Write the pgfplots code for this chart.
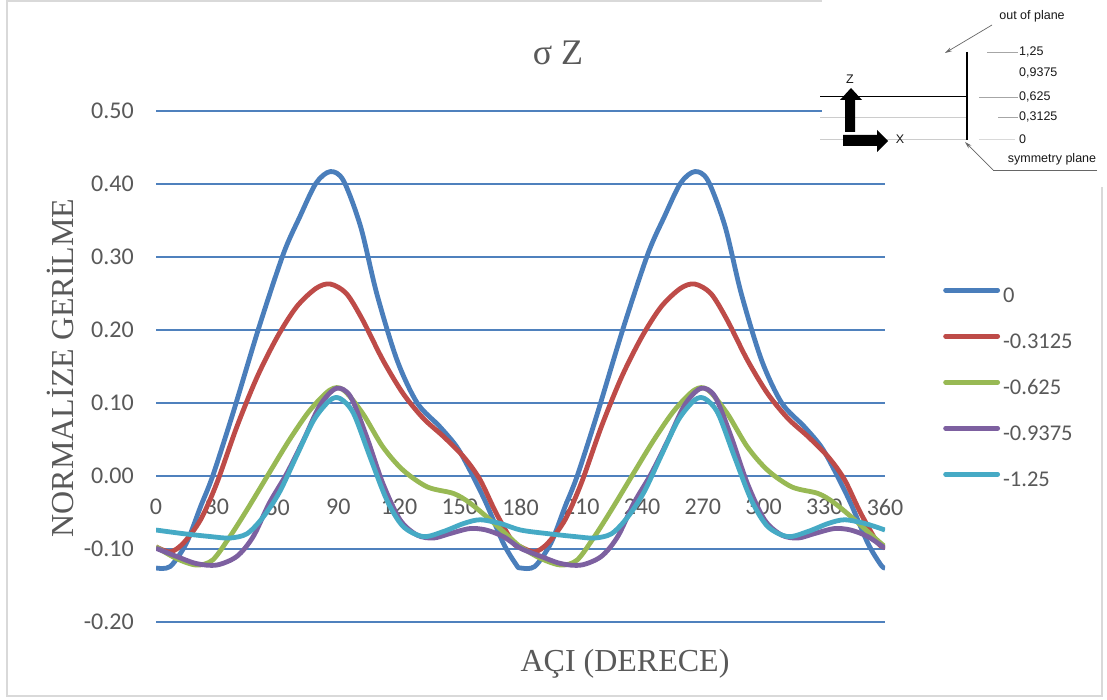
\documentclass[border=0pt]{standalone}
\usepackage{pgfplots}
\pgfplotsset{compat=1.18}
\usepackage{fontspec}
\setmainfont{Carlito}
\newfontfamily\seriffont{Liberation Serif}
\newfontfamily\arialfont{Liberation Sans}
\usetikzlibrary{arrows.meta}
\definecolor{gridblue}{HTML}{4F81BD}
\definecolor{sblue}{HTML}{4A7EBB}
\definecolor{sred}{HTML}{BE4B48}
\definecolor{sgreen}{HTML}{98B954}
\definecolor{spurple}{HTML}{7D60A0}
\definecolor{scyan}{HTML}{46AAC5}
\definecolor{txtgray}{HTML}{595959}
\definecolor{bordergray}{HTML}{D9D9D9}
\begin{document}
\begin{tikzpicture}[x=1pt,y=1pt]
\path[use as bounding box] (0,0) rectangle (1107,700);
\fill[white] (0,0) rectangle (1107,700);
\draw[bordergray, line width=2pt] (7,4) rectangle (1102,699);
\begin{axis}[
  at={(156pt,78pt)}, anchor=south west,
  scale only axis, width=729pt, height=511pt,
  xmin=0, xmax=360, ymin=-0.2, ymax=0.5,
  xtick={0,30,60,90,120,150,180,210,240,270,300,330,360},
  ytick={-0.2,-0.1,0,0.1,0.2,0.3,0.4,0.5},
  axis line style={draw=none},
  major tick length=0pt,
  ymajorgrids,
  grid style={color=gridblue, line width=1.5pt},
  /pgf/number format/assume math mode=true,
  tick label style={font=\fontsize{24}{24}\selectfont, text=txtgray, inner sep=0pt},
  xticklabel style={yshift=123pt},
  yticklabel style={xshift=-22pt, /pgf/number format/.cd, fixed, fixed zerofill, precision=2},
  legend style={at={(rel axis cs:1.0796,0.6566)}, anchor=north west, draw=none, fill=none,
    inner sep=0pt, font=\fontsize{22.5}{22.5}\selectfont, text=txtgray, row sep=25pt, column sep=3pt,
    nodes={inner sep=0pt, text height=16pt, text depth=5pt}},
  legend cell align=left,
  legend image code/.code={\draw[#1, line width=4.8pt, line cap=round] (0pt,7pt) -- (52pt,7pt);},
  every axis plot/.append style={line width=4.8pt, smooth, no markers, line join=round},
]
\addplot[sblue] coordinates {(0,-0.126)(7,-0.124)(15,-0.092)(22,-0.042)(28,0.0)(38,0.086)(51,0.205)(63,0.305)(71,0.355)(79,0.401)(86,0.417)(92.5,0.405)(101,0.342)(109,0.25)(119,0.159)(129,0.10)(140,0.068)(148.5,0.040)(155,0.008)(163,-0.037)(171.5,-0.092)(178,-0.122)(180,-0.126)
(187,-0.124)(195,-0.092)(202,-0.042)(208,0.0)(218,0.086)(231,0.205)(243,0.305)(251,0.355)(259,0.401)(266,0.417)(272.5,0.405)(281,0.342)(289,0.25)(299,0.159)(309,0.10)(320,0.068)(328.5,0.040)(335,0.008)(343,-0.037)(351.5,-0.092)(358,-0.122)(360,-0.126)};
\addlegendentry{0}
\addplot[sred] coordinates {(0,-0.097)(7,-0.104)(13.5,-0.092)(22,-0.060)(30,-0.01)(40,0.068)(50,0.136)(60,0.191)(69.5,0.232)(79,0.257)(86,0.263)(94,0.25)(102,0.214)(112,0.159)(122,0.113)(132,0.079)(142,0.054)(152,0.026)(160,-0.005)(168,-0.051)(176.5,-0.092)(180,-0.097)
(187,-0.104)(193.5,-0.092)(202,-0.060)(210,-0.01)(220,0.068)(230,0.136)(240,0.191)(249.5,0.232)(259,0.257)(266,0.263)(274,0.25)(282,0.214)(292,0.159)(302,0.113)(312,0.079)(322,0.054)(332,0.026)(340,-0.005)(348,-0.051)(356.5,-0.092)(360,-0.097)};
\addlegendentry{-0.3125}
\addplot[sgreen] coordinates {(0,-0.097)(10,-0.113)(20,-0.122)(28,-0.115)(36.5,-0.083)(45,-0.046)(55,0.0)(66,0.050)(76,0.09)(86,0.118)(92.5,0.118)(102,0.086)(112,0.040)(122,0.008)(134,-0.015)(147,-0.024)(155,-0.037)(165,-0.060)(175,-0.085)(180,-0.097)
(190,-0.113)(200,-0.122)(208,-0.115)(216.5,-0.083)(225,-0.046)(235,0.0)(246,0.050)(256,0.09)(266,0.118)(272.5,0.118)(282,0.086)(292,0.040)(302,0.008)(314,-0.015)(327,-0.024)(335,-0.037)(345,-0.060)(355,-0.085)(360,-0.097)};
\addlegendentry{-0.625}
\addplot[spurple] coordinates {(0,-0.099)(10,-0.110)(20,-0.120)(30,-0.122)(40,-0.110)(48,-0.083)(56,-0.037)(64.5,0.003)(73,0.050)(81,0.097)(89,0.12)(96,0.109)(104,0.054)(112,-0.010)(120.5,-0.060)(129,-0.081)(137,-0.085)(145,-0.079)(155,-0.072)(163,-0.074)(171.5,-0.083)(180,-0.099)
(190,-0.110)(200,-0.120)(210,-0.122)(220,-0.110)(228,-0.083)(236,-0.037)(244.5,0.003)(253,0.050)(261,0.097)(269,0.12)(276,0.109)(284,0.054)(292,-0.010)(300.5,-0.060)(309,-0.081)(317,-0.085)(325,-0.079)(335,-0.072)(343,-0.074)(351.5,-0.083)(360,-0.099)};
\addlegendentry{-0.9375}
\addplot[scyan] coordinates {(0,-0.074)(13.5,-0.079)(27,-0.083)(36.5,-0.085)(45,-0.079)(53,-0.056)(61,-0.022)(69.5,0.028)(78,0.077)(86,0.104)(91,0.106)(97.5,0.086)(105.7,0.026)(114,-0.033)(122,-0.069)(132,-0.083)(142,-0.076)(152,-0.065)(160,-0.060)(170,-0.065)(180,-0.074)
(193.5,-0.079)(207,-0.083)(216.5,-0.085)(225,-0.079)(233,-0.056)(241,-0.022)(249.5,0.028)(258,0.077)(266,0.104)(271,0.106)(277.5,0.086)(285.7,0.026)(294,-0.033)(302,-0.069)(312,-0.083)(322,-0.076)(332,-0.065)(340,-0.060)(350,-0.065)(360,-0.074)};
\addlegendentry{-1.25}
\end{axis}
% titles
\node[text=txtgray, font=\seriffont\fontsize{36}{36}\selectfont] at (558,647) {σ Z};
\node[text=txtgray, font=\seriffont\fontsize{32}{32}\selectfont, rotate=90] at (60,332) {NORMALİZE GERİLME};
\node[text=txtgray, font=\seriffont\fontsize{32}{32}\selectfont] at (625,36) {AÇI (DERECE)};
% inset diagram (image coordinates)
\begin{scope}[yscale=-1, yshift=-700pt]
\fill[white] (822,0) rectangle (1107,176);
\fill[white] (1092,0) rectangle (1107,187);
\draw[gray!40, line width=0.8pt] (820,117) -- (967,117);
\draw[gray!40, line width=0.8pt] (820,139) -- (967,139);
\draw[black, line width=1pt] (820,97) -- (967,97);
\draw[black, line width=1.3pt] (967,52) -- (967,140);
\draw[gray!70, line width=0.8pt] (987,52) -- (1018,52);
\draw[gray!70, line width=0.8pt] (979,97) -- (1018,97);
\draw[gray!70, line width=0.8pt] (998,117) -- (1018,117);
\draw[gray!30, line width=0.8pt] (979,139) -- (1015,139);
\draw[gray!80!black, line width=0.7pt, -{Stealth[length=7pt,width=4pt]}] (992,25) -- (945,53);
\draw[gray!80!black, line width=0.7pt] (1097,170) -- (993,170);
\draw[gray!80!black, line width=0.7pt, -{Stealth[length=7pt,width=4pt]}] (993,170) -- (965,142);
\fill[black] (845,132) -- (845,100) -- (840,100) -- (851,88) -- (862,100) -- (855,100) -- (855,132) -- cycle;
\fill[black] (843,135) -- (877,135) -- (877,130) -- (888,141) -- (877,152) -- (877,146) -- (843,146) -- cycle;
\begin{scope}[every node/.style={font=\arialfont\fontsize{12.5}{12.5}\selectfont, text=black!90, inner sep=0pt}]
\node at (1032,16) {out of plane};
\node[anchor=west] at (1019,52) {1,25};
\node[anchor=west] at (1019,73) {0,9375};
\node[anchor=west] at (1019,97) {0,625};
\node[anchor=west] at (1019,117) {0,3125};
\node[anchor=west] at (1019,139) {0};
\node at (1052,159) {symmetry plane};
\node at (850,79) {Z};
\node at (900,139) {X};
\end{scope}
\end{scope}
\end{tikzpicture}
\end{document}
